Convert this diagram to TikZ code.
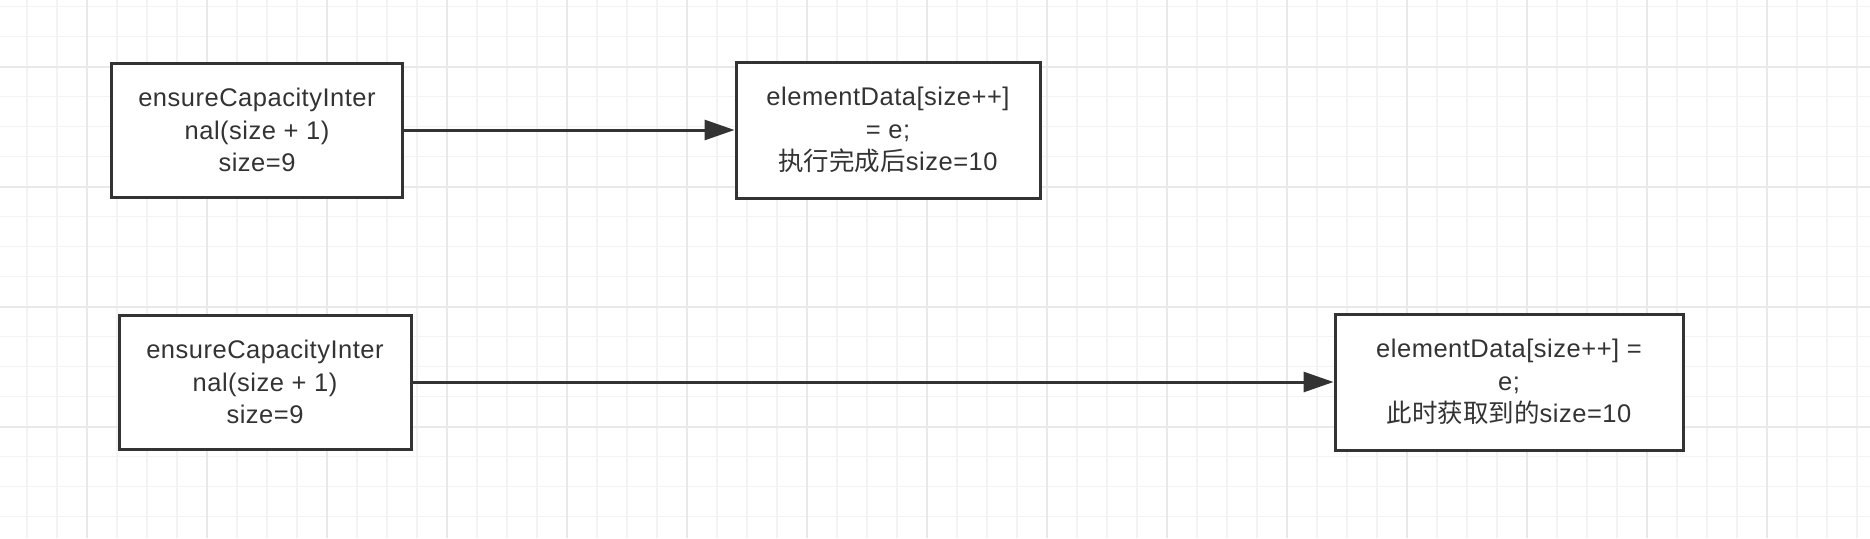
\documentclass[tikz,border=0pt]{standalone}
\usepackage{fontspec}
\setmainfont{Liberation Sans}[LetterSpace=2]
\newfontfamily\cjk{Noto Sans CJK SC}
\usetikzlibrary{arrows.meta}
\definecolor{ink}{HTML}{333333}
\definecolor{gridminor}{HTML}{F3F3F3}
\definecolor{gridmajor}{HTML}{E9E9E9}
\tikzset{
  box/.style={draw=ink, line width=3pt, fill=white, align=center, text=ink,
    font=\fontsize{25.5}{32.5}\selectfont, inner sep=0pt},
  conn/.style={draw=ink, line width=3pt, -{Triangle[length=30pt,width=20pt]}},
  minorline/.style={draw=gridminor, line width=1.2pt},
  majorline/.style={draw=gridmajor, line width=1.6pt}
}
\begin{document}
\begin{tikzpicture}[x=1pt,y=-1pt]
\fill[white] (0,0) rectangle (1870,538);
\useasboundingbox (0,0) rectangle (1870,538);
% grid
\foreach \x in {27,57,...,1870} \draw[minorline] (\x,0) -- (\x,538);
\foreach \y in {6.7,36.7,...,538} \draw[minorline] (0,\y) -- (1870,\y);
\foreach \x in {87,207,...,1870} \draw[majorline] (\x,0) -- (\x,538);
\foreach \y in {66.7,186.7,...,538} \draw[majorline] (0,\y) -- (1870,\y);
% boxes
\node[box, minimum width=291pt, minimum height=134pt] (b1) at (257,130)
  {ensureCapacityInter\\nal(size + 1)\\size=9};
\node[box, minimum width=304pt, minimum height=136pt] (b2) at (888,130)
  {elementData[size++]\\= e;\\{\cjk 执行完成后}size=10};
\node[box, minimum width=292pt, minimum height=134pt] (b3) at (265,382)
  {ensureCapacityInter\\nal(size + 1)\\size=9};
\node[box, minimum width=348pt, minimum height=136pt] (b4) at (1509,382)
  {elementData[size++] =\\e;\\{\cjk 此时获取到的}size=10};
% connectors
\draw[conn] (b1) -- (b2);
\draw[conn] (b3) -- (b4);
\end{tikzpicture}
\end{document}
